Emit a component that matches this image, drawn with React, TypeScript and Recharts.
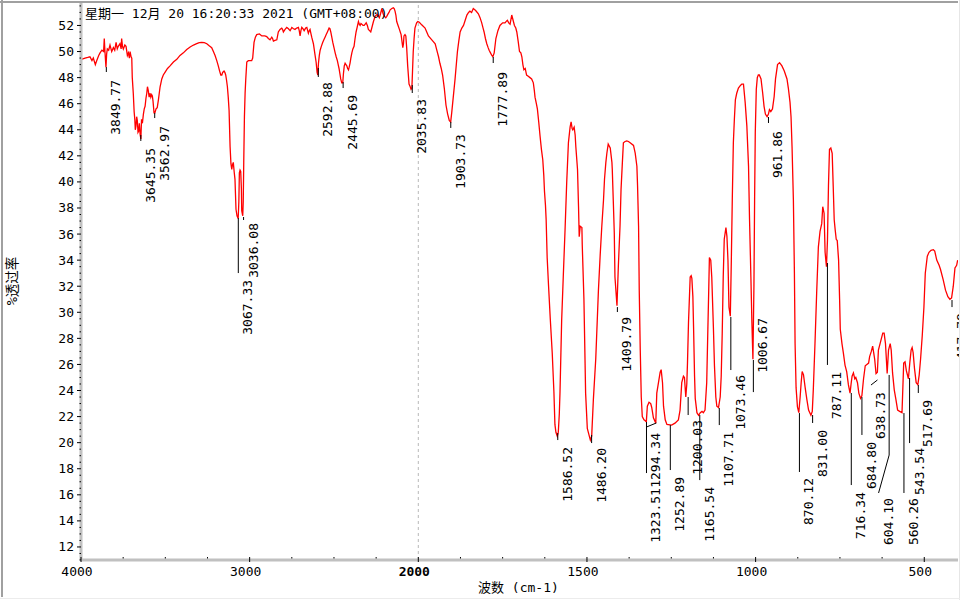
import { ComposedChart, Line, XAxis, YAxis, ReferenceLine, ReferenceDot } from "recharts";

// wavenumber (cm-1) / %T
const wavenumbers = [
  3998, 3976, 3960, 3947, 3935, 3927, 3915, 3907, 3895, 3887, 3876, 3866, 3862, 3858, 3852, 3848, 3844, 3836, 3828, 3818,
  3808, 3800, 3792, 3785, 3779, 3769, 3762, 3759, 3754, 3749, 3740, 3733, 3725, 3719, 3713, 3709, 3703, 3699, 3696, 3690,
  3685, 3681, 3678, 3674, 3670, 3666, 3662, 3658, 3654, 3649, 3645, 3641, 3636, 3630, 3625, 3620, 3615, 3610, 3606, 3601,
  3596, 3591, 3586, 3581, 3577, 3573, 3567, 3562, 3555, 3548, 3541, 3536, 3531, 3521, 3512, 3502, 3487, 3472, 3452, 3432,
  3413, 3393, 3373, 3353, 3333, 3314, 3299, 3284, 3269, 3254, 3240, 3225, 3215, 3205, 3195, 3186, 3178, 3171, 3165, 3160,
  3152, 3147, 3142, 3137, 3132, 3127, 3122, 3116, 3111, 3106, 3102, 3097, 3092, 3087, 3081, 3075, 3068, 3064, 3061, 3057,
  3053, 3049, 3047, 3041, 3038, 3035, 3031, 3027, 3023, 3017, 3008, 2995, 2988, 2982, 2974, 2966, 2958, 2942, 2928, 2910,
  2899, 2889, 2879, 2874, 2869, 2864, 2859, 2850, 2839, 2830, 2820, 2810, 2805, 2800, 2790, 2780, 2770, 2760, 2750, 2740,
  2731, 2721, 2711, 2706, 2701, 2696, 2691, 2684, 2677, 2668, 2661, 2652, 2647, 2642, 2637, 2632, 2622, 2612, 2606, 2600,
  2596, 2592, 2587, 2582, 2575, 2567, 2560, 2553, 2546, 2539, 2529, 2524, 2519, 2513, 2507, 2500, 2493, 2487, 2480, 2475,
  2470, 2465, 2460, 2454, 2448, 2444, 2439, 2434, 2429, 2424, 2419, 2414, 2410, 2405, 2400, 2394, 2388, 2381, 2375, 2369,
  2362, 2355, 2350, 2345, 2340, 2335, 2328, 2321, 2315, 2309, 2302, 2296, 2289, 2282, 2274, 2266, 2256, 2249, 2242, 2236,
  2231, 2224, 2216, 2211, 2207, 2200, 2193, 2187, 2181, 2174, 2167, 2157, 2148, 2143, 2138, 2133, 2128, 2120, 2112, 2107,
  2102, 2097, 2092, 2088, 2085, 2079, 2074, 2069, 2063, 2059, 2055, 2048, 2043, 2038, 2034, 2030, 2025, 2020, 2010, 2003,
  1997, 1990, 1980, 1975, 1970, 1960, 1950, 1944, 1940, 1936, 1932, 1928, 1923, 1918, 1913, 1908, 1904, 1901, 1896, 1891,
  1884, 1880, 1876, 1871, 1866, 1861, 1856, 1851, 1847, 1842, 1837, 1830, 1822, 1817, 1812, 1808, 1805, 1801, 1797, 1793,
  1790, 1786, 1782, 1779, 1775, 1770, 1764, 1758, 1750, 1743, 1738, 1736, 1732, 1728, 1723, 1719, 1715, 1711, 1708, 1704,
  1700, 1696, 1693, 1690, 1687, 1683, 1679, 1674, 1669, 1664, 1659, 1656, 1654, 1650, 1647, 1643, 1639, 1635, 1631, 1628,
  1626, 1623, 1621, 1618, 1614, 1609, 1603, 1598, 1595, 1592, 1588, 1585, 1582, 1580, 1575, 1570, 1565, 1560, 1555, 1550,
  1547, 1544, 1542, 1538, 1535, 1533, 1528, 1525, 1523, 1520, 1515, 1514, 1509, 1504, 1499, 1494, 1490, 1486, 1481, 1474,
  1469, 1466, 1461, 1456, 1451, 1448, 1444, 1441, 1437, 1431, 1426, 1425, 1422, 1419, 1417, 1411, 1407, 1402, 1399, 1395,
  1392, 1387, 1382, 1377, 1372, 1362, 1357, 1352, 1350, 1347, 1345, 1342, 1339, 1336, 1331, 1328, 1324, 1321, 1316, 1311,
  1308, 1303, 1296, 1293, 1288, 1283, 1280, 1276, 1273, 1268, 1263, 1249, 1239, 1229, 1224, 1219, 1214, 1211, 1207, 1204,
  1202, 1199, 1194, 1191, 1189, 1186, 1184, 1181, 1179, 1174, 1169, 1164, 1159, 1155, 1150, 1145, 1142, 1139, 1137, 1133,
  1130, 1125, 1122, 1118, 1115, 1110, 1105, 1102, 1099, 1096, 1093, 1088, 1085, 1082, 1079, 1075, 1072, 1069, 1066, 1063,
  1060, 1056, 1051, 1045, 1041, 1036, 1031, 1026, 1021, 1018, 1014, 1011, 1008, 1005, 1003, 1001, 998, 995, 992, 989,
  984, 979, 975, 971, 966, 962, 959, 955, 950, 945, 941, 935, 929, 922, 915, 907, 903, 898, 895, 892,
  888, 885, 883, 880, 876, 872, 868, 865, 862, 858, 853, 848, 843, 836, 832, 829, 824, 819, 814, 809,
  804, 801, 797, 794, 790, 787, 784, 781, 777, 773, 770, 767, 764, 761, 758, 754, 751, 749, 744, 740,
  735, 730, 725, 720, 717, 714, 710, 706, 703, 698, 694, 689, 685, 680, 675, 665, 662, 657, 653, 650,
  647, 643, 639, 636, 631, 623, 619, 615, 610, 606, 601, 598, 594, 589, 584, 579, 573, 566, 561, 557,
  553, 547, 543, 539, 536, 533, 529, 524, 519, 515, 511, 506, 501, 497, 491, 486, 480, 473, 469, 463,
  456, 452, 444, 437, 430, 424, 419, 414, 409, 404, 401,
];

const transmittance = [
  49.4, 49.5, 49.55, 49.6, 49.3, 49.5, 49.0, 49.3, 49.7, 49.9, 50.1, 50.0, 51.0, 50.0, 48.8, 49.8, 50.2, 50.1, 50.5, 50.0,
  50.3, 50.1, 50.7, 50.2, 50.4, 50.6, 50.2, 51.0, 50.4, 50.2, 50.5, 50.4, 49.7, 49.9, 49.5, 50.0, 49.6, 49.5, 48.0, 46.8,
  45.4, 44.8, 44.0, 44.3, 45.0, 44.7, 43.8, 43.9, 44.5, 43.6, 43.3, 44.8, 44.5, 45.2, 45.6, 45.8, 46.4, 46.8, 47.3, 47.0,
  46.5, 46.8, 46.5, 46.7, 46.6, 46.2, 45.3, 45.3, 45.6, 45.7, 46.3, 46.8, 47.3, 47.9, 48.2, 48.4, 48.7, 48.9, 49.2, 49.4,
  49.7, 49.9, 50.15, 50.35, 50.5, 50.6, 50.68, 50.7, 50.68, 50.6, 50.45, 50.3, 50.0, 49.7, 49.3, 48.9, 48.5, 48.2, 48.2, 48.4,
  48.5, 48.4, 48.2, 47.8, 47.3, 46.5, 45.5, 42.7, 41.4, 40.95, 41.3, 41.5, 40.8, 40.2, 37.9, 37.4, 37.2, 38.5, 40.7, 40.9,
  40.8, 39.5, 37.8, 37.4, 38.5, 41.5, 45.0, 46.8, 47.9, 49.2, 49.3, 49.3, 49.3, 49.5, 50.7, 51.1, 51.3, 51.35, 51.2, 51.2,
  51.15, 51.0, 50.9, 51.0, 51.1, 51.0, 50.8, 50.85, 50.9, 51.5, 51.7, 51.8, 51.7, 51.5, 51.7, 51.85, 51.75, 51.6, 51.85, 51.75,
  51.7, 51.8, 51.85, 51.6, 51.2, 51.6, 51.85, 51.75, 51.6, 51.8, 51.85, 51.4, 51.6, 51.7, 51.4, 51.1, 50.6, 49.7, 49.2, 48.4,
  48.2, 49.1, 49.7, 50.1, 50.4, 50.7, 50.9, 51.1, 51.3, 51.5, 51.8, 51.75, 51.5, 51.1, 50.7, 50.3, 49.9, 49.6, 49.3, 49.0,
  48.7, 48.3, 47.9, 47.6, 47.6, 48.3, 48.9, 49.1, 49.0, 48.9, 48.7, 48.6, 48.8, 49.1, 49.5, 49.9, 50.2, 50.4, 51.0, 51.5,
  51.9, 52.3, 52.1, 52.0, 52.15, 52.1, 52.0, 52.0, 52.1, 52.2, 52.0, 51.7, 51.6, 51.5, 51.9, 52.3, 52.7, 52.8, 52.85, 52.7,
  52.6, 52.9, 53.3, 53.0, 52.85, 52.7, 52.6, 52.7, 52.85, 53.0, 53.2, 53.3, 53.35, 53.3, 53.1, 52.8, 52.3, 52.0, 51.7, 51.5,
  51.3, 50.8, 50.3, 50.6, 51.2, 51.3, 51.2, 50.3, 48.9, 48.2, 47.5, 47.3, 47.1, 47.2, 48.6, 50.0, 51.0, 51.8, 52.2, 52.3,
  52.25, 52.05, 51.8, 51.5, 51.2, 50.9, 50.6, 50.0, 49.6, 49.1, 48.7, 48.2, 47.2, 45.9, 45.2, 44.7, 44.6, 45.3, 46.6, 47.9,
  50.0, 50.8, 51.5, 51.8, 52.0, 52.4, 52.8, 53.0, 53.1, 53.0, 53.3, 53.15, 52.9, 52.6, 52.2, 51.8, 51.5, 51.0, 50.6, 50.3,
  50.1, 49.9, 49.7, 49.6, 49.9, 51.0, 51.6, 52.0, 52.2, 52.2, 52.35, 52.4, 52.2, 52.1, 52.8, 52.4, 52.0, 51.8, 51.5, 50.8,
  50.0, 49.9, 49.6, 49.0, 48.6, 48.7, 48.2, 48.1, 48.0, 47.9, 47.6, 47.0, 46.5, 46.0, 45.6, 44.6, 43.5, 42.5, 41.7, 40.5,
  39.3, 38.2, 37.1, 34.2, 32.1, 29.6, 26.9, 23.9, 21.4, 20.8, 20.5, 20.8, 22.2, 23.8, 29.4, 32.9, 36.3, 40.0, 43.0, 44.2,
  44.6, 44.1, 44.0, 44.2, 43.6, 42.7, 40.95, 38.1, 35.8, 36.6, 36.5, 35.2, 31.0, 23.8, 21.1, 20.6, 20.2, 20.5, 23.3, 26.4,
  29.7, 31.7, 34.3, 36.6, 38.6, 40.2, 41.5, 42.2, 42.9, 42.6, 41.5, 41.0, 38.6, 36.1, 32.7, 30.5, 33.5, 36.6, 39.4, 41.5,
  43.0, 43.1, 43.15, 43.1, 43.0, 42.8, 42.2, 41.2, 39.7, 36.6, 31.7, 27.1, 23.5, 22.0, 21.75, 21.7, 21.6, 22.8, 23.1, 23.0,
  22.7, 21.9, 21.5, 23.8, 24.6, 25.4, 25.6, 24.6, 22.8, 21.75, 21.4, 21.35, 21.5, 21.75, 22.5, 24.6, 25.1, 25.0, 23.5, 24.5,
  26.1, 29.2, 32.7, 32.8, 32.6, 31.2, 28.9, 25.1, 23.4, 22.3, 22.1, 22.3, 22.4, 22.3, 22.5, 24.6, 28.2, 31.7, 34.2, 34.0,
  32.7, 28.7, 25.9, 23.5, 22.8, 22.7, 23.5, 25.1, 28.4, 32.7, 35.6, 36.5, 35.8, 34.0, 30.4, 29.7, 34.0, 38.9, 43.0, 44.8,
  46.3, 46.8, 47.2, 47.4, 47.5, 47.5, 46.1, 44.3, 41.2, 37.1, 32.7, 29.2, 26.4, 32.0, 38.6, 43.8, 47.1, 48.0, 48.2, 48.2,
  47.9, 46.8, 45.8, 45.2, 45.0, 45.2, 45.55, 45.4, 45.6, 46.55, 47.9, 49.0, 49.15, 48.9, 48.5, 47.9, 47.2, 46.1, 45.0, 42.7,
  38.6, 33.0, 27.6, 24.2, 22.75, 22.3, 23.5, 24.6, 25.45, 25.2, 24.2, 23.3, 22.5, 22.1, 22.4, 24.05, 27.6, 31.5, 35.0, 36.2,
  36.8, 38.1, 37.6, 34.6, 33.5, 35.5, 39.7, 42.5, 42.6, 42.2, 39.7, 37.1, 36.3, 35.6, 35.5, 34.0, 31.0, 28.7, 27.6, 26.9,
  25.95, 25.45, 24.45, 23.8, 24.5, 25.1, 25.35, 24.9, 25.0, 24.6, 23.8, 23.4, 23.6, 24.9, 25.9, 26.1, 26.6, 27.0, 27.4, 26.9,
  26.4, 25.3, 25.4, 27.1, 27.6, 28.4, 28.4, 27.6, 25.3, 27.1, 27.6, 27.1, 25.35, 24.05, 23.3, 22.5, 22.4, 22.3, 26.1, 26.2,
  25.5, 24.9, 26.1, 27.1, 27.3, 26.9, 25.7, 24.6, 24.45, 25.2, 26.4, 28.2, 30.4, 33.0, 34.3, 34.6, 34.75, 34.8, 34.7, 34.0,
  33.6, 33.3, 32.5, 31.7, 31.2, 31.0, 31.1, 32.0, 33.4, 33.6, 34.0,
];

// peak annotations
const peakWn = [
  3849.77, 3645.35, 3562.97, 3067.33, 3036.08, 2592.88, 2445.69, 2035.83, 1903.73, 1777.89, 1586.52,
  1486.2, 1409.79, 1323.51, 1294.34, 1252.89, 1200.03, 1165.54, 1107.71, 1073.46, 1006.67, 961.86,
  870.12, 831.0, 787.11, 716.34, 684.8, 638.73, 604.1, 560.26, 543.54, 517.69, 417.78,
];
const leaderTop = [
  48.81, 43.6, 45.29, 37.23, 37.31, 48.74, 47.66, 47.43, 44.6, 49.58, 20.74,
  20.59, 30.4, 21.58, 21.51, 21.35, 23.5, 22.12, 22.66, 29.64, 26.34, 44.98,
  22.27, 22.12, 33.78, 23.81, 23.5, 24.81, 25.19, 22.27, 24.96, 24.42, 30.94,
];
const leaderBottom = [
  48.43, 43.14, 44.9, 33.01, 37.08, 48.05, 47.2, 46.82, 44.14, 49.12, 20.2,
  19.97, 30.02, 17.67, 21.2, 17.9, 22.12, 17.13, 21.35, 25.57, 23.88, 44.52,
  17.75, 21.51, 25.96, 16.75, 20.59, 24.42, 16.14, 16.14, 19.97, 23.81, 30.4,
];
const textTop = [
  47.82, 42.6, 44.29, 32.48, 36.85, 47.66, 46.67, 46.36, 43.67, 48.43, 19.67,
  19.59, 29.64, 16.52, 20.74, 17.37, 21.74, 16.6, 20.82, 25.19, 29.56, 43.9,
  17.29, 20.97, 25.42, 16.21, 20.05, 23.88, 15.75, 15.75, 19.59, 23.27, 29.94,
];
// leaders that bend sideways: peak -> [knee %T, end wavenumber]
const leaderBends: Record<string, [number, number]> = {
  "1294.34": [21.51, 1323.51],
  "638.73": [24.81, 658],
  "604.10": [19.05, 635.5],
};

const xMajor = [4000, 3000, 2000, 1500, 1000, 500];

// 4000-2000 at one scale, 2000-400 at double scale
const toU = (w: number) => (w >= 2000 ? 4000 - w : 2000 + (2000 - w) * 2);
const fromU = (u: number) => (u <= 2000 ? 4000 - u : 2000 - (u - 2000) / 2);

const data = wavenumbers.map((w, i) => ({ u: toU(w), t: transmittance[i] }));

const xTicks: number[] = [];
for (let u = 0; u <= 5000; u += 250) xTicks.push(u);
const yTicks: number[] = [];
for (let v = 11; v <= 53.5; v += 0.5) yTicks.push(v);

const FONT = "'DejaVu Sans Mono', 'Noto Sans CJK SC', monospace";

const XTick = (props: any) => {
  const { x, y, payload } = props;
  const u = payload.value;
  const major = xMajor.map(toU).includes(u);
  if (!major) {
    return <line x1={x} x2={x} y1={y - 3} y2={y - 1.5} stroke="#000" />;
  }
  const w = fromU(u);
  return (
    <g>
      <line x1={x} x2={x} y1={y - 3} y2={y + 2} stroke="#000" />
      <text
        x={x - 4}
        y={y + 11}
        textAnchor="middle"
        dominantBaseline="central"
        fontFamily={FONT}
        fontSize={13}
        fontWeight={w === 2000 ? "bold" : "normal"}
        fill="#000"
      >
        {w}
      </text>
    </g>
  );
};

const YTick = (props: any) => {
  const { x, y, payload } = props;
  const v = payload.value;
  const major = Number.isInteger(v) && v % 2 === 0;
  if (!major) {
    return <line x1={x - 1.5} x2={x} y1={y} y2={y} stroke="#000" />;
  }
  return (
    <g>
      <line x1={x - 4} x2={x} y1={y} y2={y} stroke="#000" />
      <text
        x={x - 7}
        y={y}
        textAnchor="end"
        dominantBaseline="central"
        fontFamily={FONT}
        fontSize={13}
        fill="#000"
      >
        {v}
      </text>
    </g>
  );
};

const PeakText = (label: string) => (p: any) => {
  const x = p.cx + 9.5;
  const y = p.cy;
  return (
    <text
      x={x}
      y={y}
      transform={`rotate(-90 ${x} ${y})`}
      textAnchor="end"
      dominantBaseline="central"
      fontFamily={FONT}
      fontSize={13}
      fill="#000"
    >
      {label}
    </text>
  );
};

export default function App() {
  return (
    <div style={{ position: "absolute", left: 0, top: 0, width: 960, height: 600, background: "#fff" }}>
      <ComposedChart
        width={960}
        height={600}
        data={data}
        margin={{ top: 2, right: 2, bottom: 0, left: 0 }}
      >
        <XAxis
          type="number"
          dataKey="u"
          domain={[0, 5200]}
          allowDataOverflow
          ticks={xTicks}
          interval={0}
          tickSize={0}
          tickMargin={0}
          tickLine={false}
          tick={XTick}
          height={40}
          axisLine={{ stroke: "#c0c0c0", strokeWidth: 3 }}
        />
        <YAxis
          type="number"
          domain={[11, 53.8]}
          allowDataOverflow
          ticks={yTicks}
          interval={0}
          tickSize={0}
          tickMargin={0}
          tickLine={false}
          tick={YTick}
          width={81}
          axisLine={{ stroke: "#c0c0c0", strokeWidth: 3 }}
        />
        <ReferenceLine x={2000} stroke="#b8b8b8" strokeDasharray="3 3" />
        <Line
          type="linear"
          dataKey="t"
          stroke="#ff0000"
          strokeWidth={1.3}
          dot={false}
          isAnimationActive={false}
        />
        {peakWn.map((w, i) => {
          const key = w.toFixed(2);
          const bend = leaderBends[key];
          const endW = bend ? bend[1] : w;
          const knee = bend ? bend[0] : leaderBottom[i];
          return [
            knee !== leaderTop[i] ? (
              <ReferenceLine
                key={`v${key}`}
                segment={[
                  { x: toU(w), y: leaderTop[i] },
                  { x: toU(w), y: knee },
                ]}
                stroke="#000"
              />
            ) : null,
            bend ? (
              <ReferenceLine
                key={`d${key}`}
                segment={[
                  { x: toU(w), y: knee },
                  { x: toU(endW), y: leaderBottom[i] },
                ]}
                stroke="#000"
              />
            ) : null,
            <ReferenceDot
              key={`t${key}`}
              x={toU(endW)}
              y={textTop[i]}
              r={0}
              shape={PeakText(key)}
            />,
          ];
        })}
      </ComposedChart>

      <div
        style={{
          position: "absolute",
          left: 85,
          top: 6,
          height: 16,
          lineHeight: "16px",
          fontFamily: FONT,
          fontSize: 13,
          whiteSpace: "pre",
          color: "#000",
        }}
      >
        星期一 12月 20 16:20:33 2021 (GMT+08:00)
      </div>
      <div
        style={{
          position: "absolute",
          left: -28,
          top: 273,
          width: 80,
          height: 16,
          lineHeight: "16px",
          textAlign: "center",
          transform: "rotate(-90deg)",
          fontFamily: FONT,
          fontSize: 13.5,
          color: "#000",
        }}
      >
        %透过率
      </div>
      <div
        style={{
          position: "absolute",
          left: 478,
          top: 580,
          height: 16,
          lineHeight: "16px",
          fontFamily: FONT,
          fontSize: 13,
          whiteSpace: "pre",
          color: "#000",
        }}
      >
        波数 (cm-1)
      </div>

      <div style={{ position: "absolute", left: 0, top: 1, width: 958, height: 2, background: "#a0a0a0" }} />
      <div style={{ position: "absolute", left: 1, top: 0, width: 2, height: 597, background: "#a0a0a0" }} />
      <div style={{ position: "absolute", left: 959, top: 0, width: 1, height: 600, background: "#e6e6e6" }} />
      <div style={{ position: "absolute", left: 0, top: 598, width: 960, height: 1, background: "#ececec" }} />
    </div>
  );
}
